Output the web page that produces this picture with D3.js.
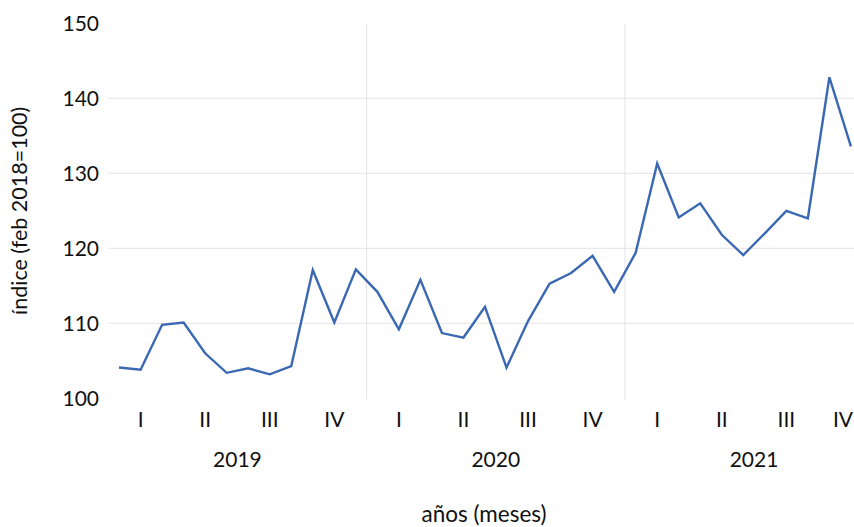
<!DOCTYPE html>
<html>
<head>
<meta charset="utf-8">
<script src="https://cdn.jsdelivr.net/npm/d3@7"></script>
<style>
  html, body { margin: 0; padding: 0; background: #fff; }
  svg { display: block; font-family: Lato, "Open Sans", sans-serif; }
</style>
</head>
<body>
<svg id="chart" width="854" height="527"></svg>
<script>
// ---- data ----
const years = ["2019", "2020", "2021"];
const quarters = ["I", "II", "III", "IV"];
const months = ["ene","feb","mar","abr","may","jun","jul","ago","sep","oct","nov","dic"];
// índice (feb 2018 = 100), monthly values from Jan 2019 to Nov 2021
const values2019 = [104.1, 103.8, 109.8, 110.1, 106.0, 103.4, 104.0, 103.2, 104.3, 117.1, 110.1, 117.2];
const values2020 = [114.2, 109.2, 115.8, 108.7, 108.1, 112.2, 104.1, 110.3, 115.3, 116.7, 119.0, 114.2];
const values2021 = [119.4, 131.3, 124.1, 126.0, 121.8, 119.1, 122.0, 125.0, 124.0, 142.8, 133.6];
const yTicks = [100, 110, 120, 130, 140, 150];
const gridValues = [110, 120, 130, 140];

// ---- layout ----
const W = 854, H = 527;
const svg = d3.select("#chart");
const plotLeft = 108.3, yearWidth = 258.3;
const plotRight = plotLeft + yearWidth * years.length;
const plotTop = 23.3, plotBottom = 398.3;

const categories = [];
years.forEach(y => months.forEach(m => categories.push(y + "-" + m)));
const seriesValues = [values2019, values2020, values2021];
const data = [];
years.forEach((y, yi) => seriesValues[yi].forEach((v, mi) => data.push({ key: y + "-" + months[mi], value: v })));

const x = d3.scaleBand().domain(categories).range([plotLeft, plotRight]).padding(0);
const y = d3.scaleLinear().domain([100, 150]).range([plotBottom, plotTop]);

// gridlines
svg.append("g").selectAll("line").data(gridValues).join("line")
  .attr("x1", plotLeft).attr("x2", plotRight)
  .attr("y1", d => y(d)).attr("y2", d => y(d))
  .attr("stroke", "#e4e4e4").attr("stroke-width", 1);

// year separators
svg.append("g").selectAll("line").data(years.slice(1)).join("line")
  .attr("x1", d => x(d + "-ene")).attr("x2", d => x(d + "-ene"))
  .attr("y1", plotTop).attr("y2", plotBottom + 1.5)
  .attr("stroke", "#e4e4e4").attr("stroke-width", 1);

// y tick labels
svg.append("g").selectAll("text").data(yTicks).join("text")
  .attr("x", 99).attr("y", d => y(d))
  .attr("dy", "0.36em")
  .attr("text-anchor", "end")
  .attr("font-size", 21).attr("fill", "#111")
  .text(d => d);

// line
const line = d3.line().x(d => x(d.key) + x.bandwidth() / 2).y(d => y(d.value));
svg.append("path").datum(data)
  .attr("d", line)
  .attr("fill", "none")
  .attr("stroke", "#3b68b3")
  .attr("stroke-width", 2.4)
  .attr("stroke-linejoin", "miter");

// quarter labels
const qData = [];
years.forEach(yr => quarters.forEach((q, qi) => qData.push({ yr, q, key: yr + "-" + months[qi * 3 + 1] })));
const qText = svg.append("g").selectAll("text").data(qData).join("text")
  .attr("y", 427)
  .attr("text-anchor", "middle")
  .attr("font-size", 21).attr("fill", "#111")
  .text(d => d.q);
qText.each(function(d) {
  const w = this.getComputedTextLength();
  let cx = x(d.key) + x.bandwidth() / 2;
  cx = Math.min(cx, W - w / 2 - 1);
  d3.select(this).attr("x", cx);
});

// year labels
svg.append("g").selectAll("text").data(years).join("text")
  .attr("x", d => (x(d + "-ene") + x(d + "-dic") + x.bandwidth()) / 2)
  .attr("y", 466.5)
  .attr("text-anchor", "middle")
  .attr("font-size", 21).attr("fill", "#111")
  .text(d => d);

// axis titles
svg.append("text")
  .attr("x", 484).attr("y", 522)
  .attr("text-anchor", "middle")
  .attr("font-size", 22.5).attr("fill", "#111")
  .text("años (meses)");

svg.append("text")
  .attr("transform", "translate(27," + ((plotTop + plotBottom) / 2) + ") rotate(-90)")
  .attr("text-anchor", "middle")
  .attr("font-size", 21.5).attr("fill", "#111")
  .text("índice (feb 2018=100)");
</script>
</body>
</html>
